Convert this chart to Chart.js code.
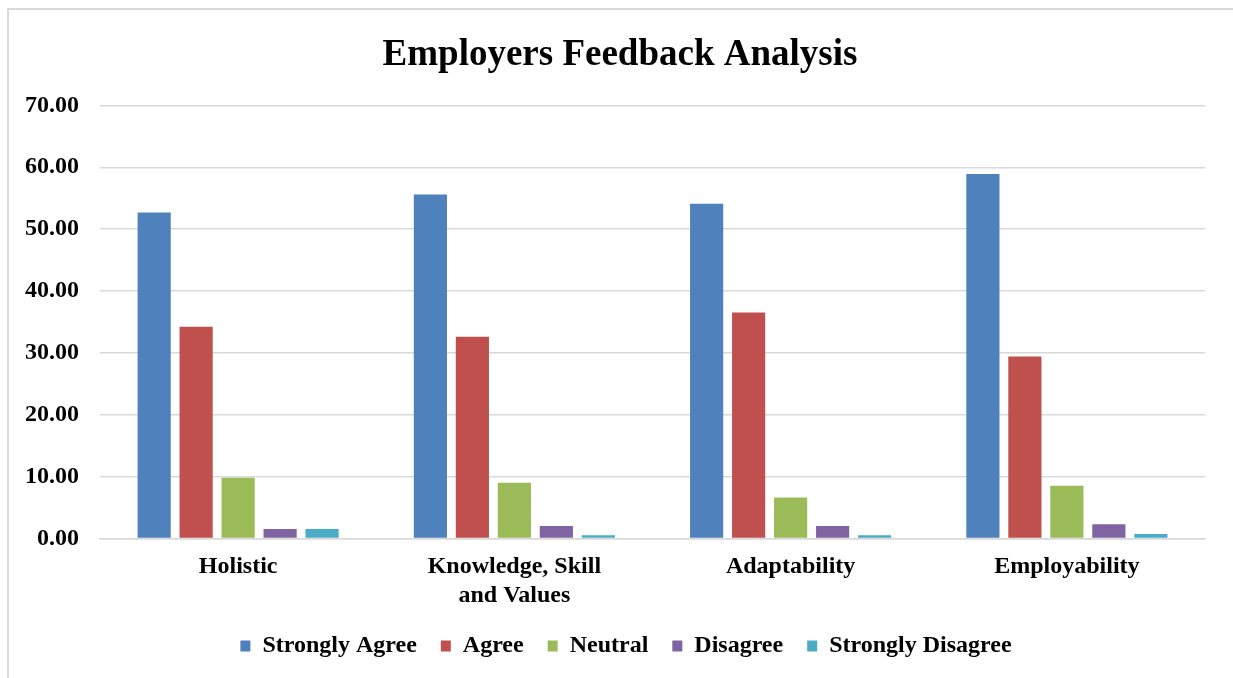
<!DOCTYPE html>
<html>
<head>
<meta charset="utf-8">
<title>Employers Feedback Analysis</title>
<script src="https://cdn.jsdelivr.net/npm/chart.js@4/dist/chart.umd.min.js"></script>
<style>
  html, body { margin: 0; padding: 0; background: #fff; }
  #frame {
    position: absolute; left: 7px; top: 8px;
    width: 1226px; height: 670px;
    border-left: 2px solid #d9d9d9; border-top: 2px solid #d9d9d9;
  }
  #wrap { position: relative; width: 1224px; height: 668px; }
</style>
</head>
<body>
<div id="frame"><div id="wrap"><canvas id="feedback-chart"></canvas></div></div>
<script>
// Data (percent of employers).
var categories = ["Holistic", ["Knowledge, Skill", "and Values"], "Adaptability", "Employability"];
var seriesNames = ["Strongly Agree", "Agree", "Neutral", "Disagree", "Strongly Disagree"];
var stronglyAgree = [52.7, 55.6, 54.1, 58.9];
var agree = [34.2, 32.6, 36.5, 29.4];
var neutral = [9.8, 9.0, 6.6, 8.5];
var disagree = [1.5, 2.0, 2.0, 2.3];
var stronglyDisagree = [1.5, 0.5, 0.5, 0.7];
var yTicks = [0, 10, 20, 30, 40, 50, 60, 70];

var colors = ["#4f81bd", "#c0504d", "#9bbb59", "#8064a2", "#4bacc6"];
var seriesValues = [stronglyAgree, agree, neutral, disagree, stronglyDisagree];
var serif = "'Liberation Serif', 'Times New Roman', serif";

var datasets = seriesNames.map(function (name, i) {
  return {
    label: name,
    data: seriesValues[i],
    backgroundColor: colors[i],
    borderWidth: 0,
    categoryPercentage: 0.76,
    barPercentage: 0.79,
  };
});

// Nudge title and legend a little to the right, like the original.
var boxShift = {
  id: "boxShift",
  afterLayout: function (chart) {
    if (chart.titleBlock) {
      chart.titleBlock.left += 5;
      chart.titleBlock.right += 5;
    }
    if (chart.legend) {
      chart.legend.left += 11;
      chart.legend.right += 11;
    }
  },
};

var ctx = document.getElementById("feedback-chart").getContext("2d");
new Chart(ctx, {
  type: "bar",
  data: { labels: categories, datasets: datasets },
  plugins: [boxShift],
  options: {
    responsive: true,
    maintainAspectRatio: false,
    animation: false,
    layout: { padding: { left: 16, right: 28, top: 0, bottom: 10 } },
    plugins: {
      tooltip: { enabled: false },
      title: {
        display: true,
        text: "Employers Feedback Analysis",
        color: "#000",
        font: { family: serif, size: 37, weight: "bold" },
        padding: { top: 23, bottom: 28 },
      },
      legend: {
        position: "bottom",
        labels: {
          color: "#000",
          font: { family: serif, size: 24, weight: "bold" },
          boxWidth: 10,
          boxHeight: 11,
          padding: 24,
        },
      },
    },
    scales: {
      x: {
        grid: { display: false, drawTicks: false },
        border: { color: "#d9d9d9", width: 1.5 },
        ticks: {
          color: "#000",
          padding: 14,
          maxRotation: 0,
          font: { family: serif, size: 24, weight: "bold" },
        },
        // the axis reserves the tick padding twice; drop the extra below the labels
        afterFit: function (scale) { scale.height -= 14; },
      },
      y: {
        min: 0,
        max: 70,
        afterBuildTicks: function (axis) {
          axis.ticks = yTicks.map(function (v) { return { value: v }; });
        },
        grid: { color: "#d9d9d9", lineWidth: 1.5, drawTicks: false },
        border: { display: false },
        ticks: {
          color: "#000",
          padding: 21,
          font: { family: serif, size: 24, weight: "bold" },
          callback: function (v) { return Number(v).toFixed(2); },
        },
        afterFit: function (scale) { scale.width -= 21; },
      },
    },
  },
});
</script>
</body>
</html>
